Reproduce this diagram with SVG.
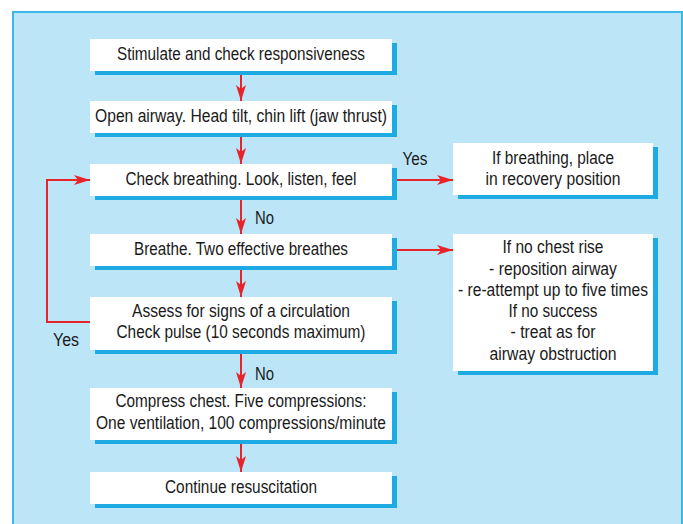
<svg xmlns="http://www.w3.org/2000/svg" width="683" height="524" viewBox="0 0 683 524">
<defs>
<marker id="ah" viewBox="0 0 16 10" refX="16" refY="5" markerWidth="16" markerHeight="10" markerUnits="userSpaceOnUse" orient="auto">
<path d="M0,0 L16,5 L0,10 L4,5 Z" fill="#e8232a"/>
</marker>
</defs>
<style>
.panel{fill:#bce5f8;stroke:#3db7ea;stroke-width:2}
.sh{fill:#1eaae3}
.bx{fill:#ffffff}
.t{font-family:"Liberation Sans Narrow","Arial Narrow","Liberation Sans",sans-serif;font-size:17.5px;fill:#1a1a1a;text-anchor:middle}
.lbl{font-family:"Liberation Sans Narrow","Arial Narrow","Liberation Sans",sans-serif;font-size:17.5px;fill:#1a1a1a}
.c{fill:none;stroke:#e8232a;stroke-width:2;marker-end:url(#ah)}
</style>
<rect class="panel" x="13" y="12" width="669" height="520"/>
<g id="connectors">
<line class="c" x1="241" y1="71" x2="241" y2="101"/>
<line class="c" x1="241" y1="133" x2="241" y2="164"/>
<line class="c" x1="392" y1="180" x2="453" y2="180"/>
<line class="c" x1="241" y1="196" x2="241" y2="234"/>
<line class="c" x1="392" y1="250" x2="453" y2="250"/>
<line class="c" x1="241" y1="266" x2="241" y2="297"/>
<polyline class="c" points="90,322 47,322 47,180 90,180"/>
<line class="c" x1="241" y1="350" x2="241" y2="388"/>
<line class="c" x1="241" y1="440" x2="241" y2="472"/>
<text class="lbl" x="402.5" y="165" textLength="25" lengthAdjust="spacingAndGlyphs">Yes</text>
<text class="lbl" x="255" y="224" textLength="19" lengthAdjust="spacingAndGlyphs">No</text>
<text class="lbl" x="53" y="346" textLength="26" lengthAdjust="spacingAndGlyphs">Yes</text>
<text class="lbl" x="255" y="380" textLength="19" lengthAdjust="spacingAndGlyphs">No</text>
</g>
<g id="n1">
<rect class="sh" x="95" y="43" width="302" height="32"/>
<rect class="bx" x="90" y="39" width="302" height="32"/>
<text class="t" x="241" y="60" textLength="248" lengthAdjust="spacingAndGlyphs">Stimulate and check responsiveness</text>
</g>
<g id="n2">
<rect class="sh" x="95" y="105" width="302" height="32"/>
<rect class="bx" x="90" y="101" width="302" height="32"/>
<text class="t" x="241" y="122" textLength="292" lengthAdjust="spacingAndGlyphs">Open airway. Head tilt, chin lift (jaw thrust)</text>
</g>
<g id="n3">
<rect class="sh" x="95" y="168" width="302" height="32"/>
<rect class="bx" x="90" y="164" width="302" height="32"/>
<text class="t" x="241" y="185" textLength="231" lengthAdjust="spacingAndGlyphs">Check breathing. Look, listen, feel</text>
</g>
<g id="n4">
<rect class="sh" x="95" y="238" width="302" height="32"/>
<rect class="bx" x="90" y="234" width="302" height="32"/>
<text class="t" x="241" y="255" textLength="214" lengthAdjust="spacingAndGlyphs">Breathe. Two effective breathes</text>
</g>
<g id="n5">
<rect class="sh" x="95" y="301" width="302" height="53"/>
<rect class="bx" x="90" y="297" width="302" height="53"/>
<text class="t" x="241" y="317" textLength="218" lengthAdjust="spacingAndGlyphs">Assess for signs of a circulation</text>
<text class="t" x="241" y="338" textLength="249" lengthAdjust="spacingAndGlyphs">Check pulse (10 seconds maximum)</text>
</g>
<g id="n6">
<rect class="sh" x="95" y="392" width="302" height="52"/>
<rect class="bx" x="90" y="388" width="302" height="52"/>
<text class="t" x="241" y="407" textLength="251" lengthAdjust="spacingAndGlyphs">Compress chest. Five compressions:</text>
<text class="t" x="241" y="429" textLength="290" lengthAdjust="spacingAndGlyphs">One ventilation, 100 compressions/minute</text>
</g>
<g id="n7">
<rect class="sh" x="95" y="476" width="302" height="32"/>
<rect class="bx" x="90" y="472" width="302" height="32"/>
<text class="t" x="241" y="493" textLength="152" lengthAdjust="spacingAndGlyphs">Continue resuscitation</text>
</g>
<g id="n8">
<rect class="sh" x="458" y="147" width="200" height="52"/>
<rect class="bx" x="453" y="143" width="200" height="52"/>
<text class="t" x="553" y="164" textLength="122" lengthAdjust="spacingAndGlyphs">If breathing, place</text>
<text class="t" x="553" y="185" textLength="135" lengthAdjust="spacingAndGlyphs">in recovery position</text>
</g>
<g id="n9">
<rect class="sh" x="458" y="238" width="200" height="137"/>
<rect class="bx" x="453" y="234" width="200" height="137"/>
<text class="t" x="553" y="253" textLength="101" lengthAdjust="spacingAndGlyphs">If no chest rise</text>
<text class="t" x="553" y="275" textLength="128" lengthAdjust="spacingAndGlyphs">- reposition airway</text>
<text class="t" x="553" y="296" textLength="190" lengthAdjust="spacingAndGlyphs">- re-attempt up to five times</text>
<text class="t" x="553" y="317" textLength="89" lengthAdjust="spacingAndGlyphs">If no success</text>
<text class="t" x="553" y="338" textLength="85" lengthAdjust="spacingAndGlyphs">- treat as for</text>
<text class="t" x="553" y="360" textLength="127" lengthAdjust="spacingAndGlyphs">airway obstruction</text>
</g>
</svg>
